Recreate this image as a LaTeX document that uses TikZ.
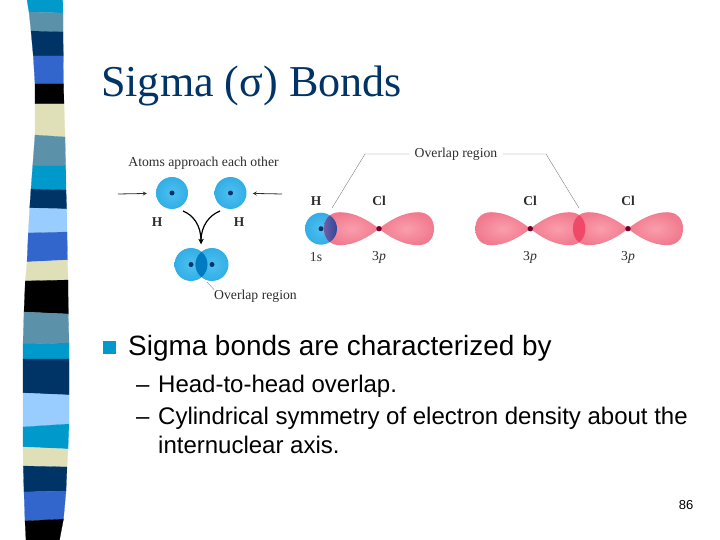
\documentclass[tikz,border=0pt]{standalone}
\usepackage{fontspec}
\setmainfont{Liberation Serif}
\setsansfont{Liberation Sans}

\definecolor{stripcyan}{RGB}{0,153,204}
\definecolor{stripsteel}{RGB}{91,146,170}
\definecolor{stripnavy}{RGB}{0,51,102}
\definecolor{stripblue}{RGB}{51,102,204}
\definecolor{striplight}{RGB}{153,204,255}
\definecolor{stripbeige}{RGB}{224,224,184}
\definecolor{atomin}{RGB}{78,192,240}
\definecolor{atomout}{RGB}{50,174,230}
\definecolor{lobein}{RGB}{250,158,172}
\definecolor{lobeout}{RGB}{241,122,142}
\definecolor{figtext}{RGB}{45,45,45}

\tikzstyle{band} = [line width=.2pt]
\tikzstyle{atom} = [circle, inner sep=0pt, minimum size=32pt, inner color=atomin, outer color=atomout]
\tikzstyle{nucleus} = [circle, inner sep=0pt, minimum size=5pt, fill=stripnavy]
\tikzstyle{clnucleus} = [circle, inner sep=0pt, minimum size=5.5pt, fill={rgb,255:red,112;green,0;blue,40}]
\tikzstyle{lobe} = [inner color=lobein, outer color=lobeout]
\tikzstyle{figlabel} = [inner sep=0pt, text=figtext, font=\fontsize{13.7}{14}\selectfont]
\tikzstyle{atomlabel} = [inner sep=0pt, text=figtext, font=\fontsize{13.5}{14}\selectfont\bfseries]
\tikzstyle{leader} = [draw=gray, line width=.4pt]
\tikzstyle{body} = [anchor=base west, inner sep=0pt, font=\sffamily\fontsize{27.9}{28}\selectfont]
\tikzstyle{sub} = [anchor=base west, inner sep=0pt, font=\sffamily\fontsize{24}{24}\selectfont]

\newcommand{\lobepath}{(0,0) .. controls (10,-8) and (24,-16.5) .. (39,-16.5)
    .. controls (50,-16.5) and (55,-9) .. (55,0) .. controls (55,9) and (50,16.5) .. (39,16.5)
    .. controls (24,16.5) and (10,8) .. (0,0) -- cycle}

\begin{document}
\begin{tikzpicture}[x=1pt, y=-1pt]
    \useasboundingbox (0,0) rectangle (720,540);

    % side strip
    \filldraw [band, stripcyan] (27,0) -- (62.7,0) -- (63,13) -- (29,12) -- cycle;
    \filldraw [band, stripsteel] (29,12) -- (63,13) -- (63,32) -- (31,31) -- cycle;
    \filldraw [band, stripnavy] (31,31) -- (63,32) -- (63.3,56) -- (33.3,56) -- cycle;
    \filldraw [band, stripblue] (33.3,56) -- (63.3,56) -- (63.5,84) -- (35,84) -- cycle;
    \filldraw [band, black] (35,84) -- (63.5,84) -- (64,104) -- (35,104) -- cycle;
    \filldraw [band, stripbeige] (35,104) -- (64,104) -- (65,137) -- (35,135) -- cycle;
    \filldraw [band, stripsteel] (35,135) -- (65,137) -- (65.7,166) -- (32.7,166) -- cycle;
    \filldraw [band, stripcyan] (32.7,166) -- (65.7,166) -- (66,190) -- (31,189) -- cycle;
    \filldraw [band, stripnavy] (31,189) -- (66,190) -- (66.7,209) -- (29.7,208) -- cycle;
    \filldraw [band, striplight] (29.7,208) -- (66.7,209) -- (67,232) -- (28.3,233) -- cycle;
    \filldraw [band, stripblue] (28.3,233) -- (67,232) -- (67.5,260) -- (27,262) -- cycle;
    \filldraw [band, stripbeige] (27,262) -- (67.5,260) -- (68,280) -- (25.3,281) -- cycle;
    \filldraw [band, black] (25.3,281) -- (68,280) -- (68.3,314) -- (24,312) -- cycle;
    \filldraw [band, stripsteel] (24,312) -- (68.3,314) -- (69,343) -- (23,344) -- cycle;
    \filldraw [band, stripcyan] (23,344) -- (69,343) -- (69,359) -- (23,359) -- cycle;
    \filldraw [band, stripnavy] (23,359) -- (69,359) -- (69,395) -- (23,393) -- cycle;
    \filldraw [band, striplight] (23,393) -- (69,395) -- (69,424) -- (23,427) -- cycle;
    \filldraw [band, stripcyan] (23,427) -- (69,424) -- (68,449) -- (23,447) -- cycle;
    \filldraw [band, stripbeige] (23,447) -- (68,449) -- (67,467) -- (23.3,466) -- cycle;
    \filldraw [band, stripnavy] (23.3,466) -- (67,467) -- (66,491) -- (24,492) -- cycle;
    \filldraw [band, stripblue] (24,492) -- (66,491) -- (63.5,519) -- (25,521) -- cycle;
    \filldraw [band, black] (25,521) -- (63.5,519) -- (59.5,540) -- (26,540) -- cycle;

    \node [anchor=base west, inner sep=0pt, text=stripnavy, font=\fontsize{44.1}{44}\selectfont] (title) at (101,97) {Sigma (σ) Bonds};

    % H + H
    \node [figlabel] (approach) at (203.5,163) {Atoms approach each other};
    \node [atom] (h1) at (172,193) {};
    \node [atom] (h2) at (230.5,193) {};
    \node [nucleus] (n1) at (h1) {};
    \node [nucleus] (n2) at (h2) {};
    \node [atomlabel] (h1label) at (157,222) {H};
    \node [atomlabel] (h2label) at (239,222) {H};
    \coordinate (inl) at (118,194);
    \coordinate (inr) at (282,194);
    \coordinate (join) at (201,244);
    \draw [->, >=stealth, figtext, line width=.8pt, shorten >=9pt] (inl) -- (h1);
    \draw [->, >=stealth, figtext, line width=.8pt, shorten >=6pt] (inr) -- (h2);

    \node [atom, minimum size=33pt] (m1) at (191,264.5) {};
    \node [atom, minimum size=33pt] (m2) at (212,264.5) {};
    \begin{scope}
        \clip (191,264.5) circle (16.5);
        \fill [fill={rgb,255:red,0;green,122;blue,192}] (212,264.5) circle (16.5);
    \end{scope}
    \node [nucleus] (n3) at (m1) {};
    \node [nucleus] (n4) at (m2) {};
    \draw [->, >=stealth, black, line width=1.2pt] (183,211) .. controls (193,215) and (201,225) .. (join);
    \draw [->, >=stealth, black, line width=1.2pt] (220,211) .. controls (210,215) and (201,225) .. (join);
    \node [figlabel, anchor=west] (overlap1) at (214,296) {Overlap region};
    \coordinate (o1) at (207,282);
    \draw [leader] (o1) -- (overlap1.north west);

    % H + Cl
    \node [atom] (h3) at (321,228.7) {};
    \begin{scope}[shift={(379,228.7)}]
        \shade [lobe] \lobepath;
        \begin{scope}[xscale=-1]
            \shade [lobe] \lobepath;
            \clip \lobepath;
            \shade [left color={rgb,255:red,190;green,130;blue,200}, right color={rgb,255:red,50;green,70;blue,150}] (58,0) circle (16);
        \end{scope}
    \end{scope}
    \node [nucleus] (n5) at (h3) {};
    \node [clnucleus] (n6) at (379,228.7) {};
    \node [atomlabel] (hlabel) at (316,200.7) {H};
    \node [atomlabel] (cl1label) at (379,200.7) {Cl};
    \node [figlabel] (s1) at (316,257) {1s};
    \node [figlabel] (p1) at (379,257) {3\textit{p}};

    % Cl + Cl
    \begin{scope}[shift={(530.3,228.7)}]
        \shade [lobe] \lobepath;
        \begin{scope}[xscale=-1]
            \shade [lobe] \lobepath;
        \end{scope}
    \end{scope}
    \begin{scope}[shift={(628,228.7)}]
        \shade [lobe] \lobepath;
        \begin{scope}[xscale=-1]
            \shade [lobe] \lobepath;
        \end{scope}
    \end{scope}
    \begin{scope}[shift={(530.3,228.7)}]
        \clip \lobepath;
        \begin{scope}[shift={(97.7,0)}, xscale=-1]
            \fill [fill={rgb,255:red,240;green,72;blue,104}] \lobepath;
        \end{scope}
    \end{scope}
    \node [clnucleus] (n7) at (530.3,228.7) {};
    \node [clnucleus] (n8) at (628,228.7) {};
    \node [atomlabel] (cl2label) at (530,200.7) {Cl};
    \node [atomlabel] (cl3label) at (628,200.7) {Cl};
    \node [figlabel] (p2) at (530,257) {3\textit{p}};
    \node [figlabel] (p3) at (628,257) {3\textit{p}};

    \node [figlabel] (overlap2) at (456,154) {Overlap region};
    \coordinate (bend1) at (365,154);
    \coordinate (bend2) at (546,154);
    \coordinate (tip1) at (332,208);
    \coordinate (tip2) at (579,208);
    \draw [leader, shorten <=5pt] (overlap2.west) -- (bend1) -- (tip1);
    \draw [leader, shorten <=5pt] (overlap2.east) -- (bend2) -- (tip2);

    % bullets
    \node [rectangle, fill=stripcyan, inner sep=0pt, minimum size=13pt] (bullet) at (109.5,347) {};
    \node [body] (line1) at (128,355) {Sigma bonds are characterized by};
    \node [sub] (dash1) at (136,392) {–};
    \node [sub] (line2) at (158,392) {Head-to-head overlap.};
    \node [sub] (dash2) at (136,424.5) {–};
    \node [sub] (line3) at (158,424.5) {Cylindrical symmetry of electron density about the};
    \node [sub] (line4) at (158,453.5) {internuclear axis.};
    \node [inner sep=0pt, font=\sffamily\fontsize{13}{13}\selectfont] (page) at (686,505) {86};
\end{tikzpicture}
\end{document}
